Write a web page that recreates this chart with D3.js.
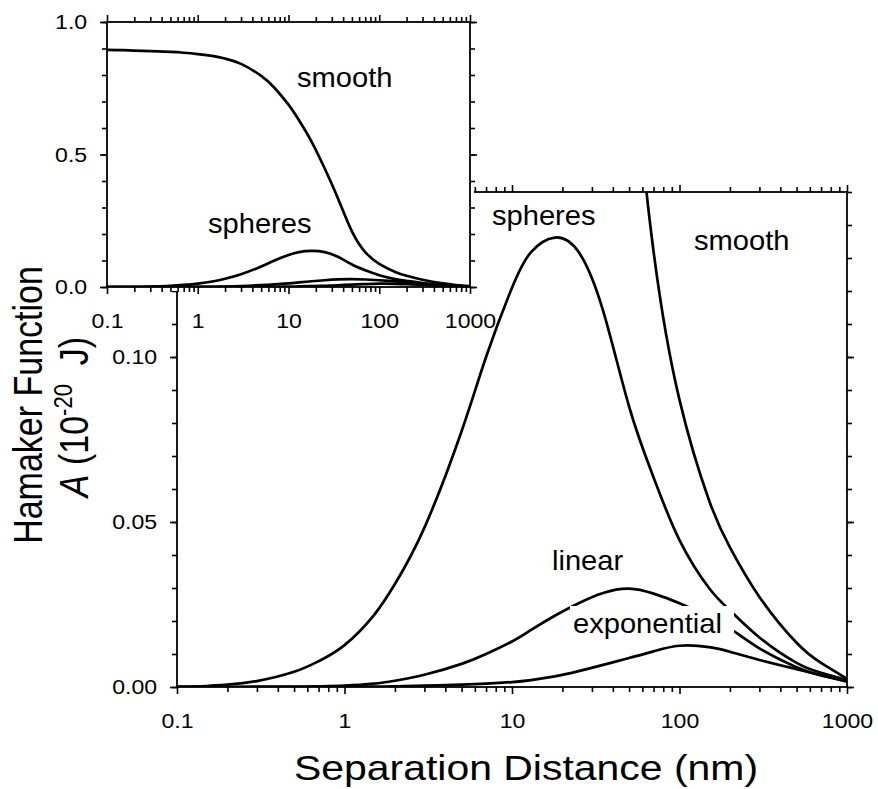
<!DOCTYPE html>
<html>
<head>
<meta charset="utf-8">
<script src="https://cdn.jsdelivr.net/npm/d3@7"></script>
<style>
  html, body { margin: 0; padding: 0; background: #fff; }
  svg { display: block; }
</style>
</head>
<body>
<svg id="chart" width="878" height="789"></svg>
<script>
// Separation distance grid (nm), shared by all four curves
const distances = [0.1, 0.15, 0.2, 0.3, 0.5, 0.7, 1, 1.5, 2, 3, 5, 7, 10, 13, 18, 25, 35, 50, 70, 100, 150, 200, 300, 500, 700, 1000];

// Hamaker function A (10^-20 J) for each surface model
const smooth      = [0.895, 0.894, 0.892, 0.890, 0.887, 0.884, 0.879, 0.871, 0.862, 0.842, 0.797, 0.752, 0.688, 0.630, 0.548, 0.448, 0.335, 0.210, 0.132, 0.087, 0.0566, 0.0423, 0.0273, 0.0134, 0.0073, 0.0025];
const spheres     = [0.0001, 0.0003, 0.0007, 0.0018, 0.0046, 0.0078, 0.0127, 0.0218, 0.0312, 0.0483, 0.0775, 0.1000, 0.1210, 0.1318, 0.1362, 0.1318, 0.1140, 0.0850, 0.0635, 0.0445, 0.0300, 0.0232, 0.0150, 0.0073, 0.0043, 0.0021];
const linear      = [0, 0, 0, 0.0001, 0.0001, 0.0002, 0.0004, 0.0010, 0.0019, 0.0037, 0.0070, 0.0100, 0.0138, 0.0173, 0.0216, 0.0254, 0.0285, 0.0298, 0.0283, 0.0254, 0.0213, 0.0178, 0.0117, 0.0060, 0.0035, 0.0018];
const exponential = [0, 0, 0, 0, 0, 0, 0.0001, 0.0001, 0.0002, 0.0004, 0.0007, 0.0010, 0.0015, 0.0021, 0.0032, 0.0048, 0.0067, 0.0088, 0.0108, 0.0125, 0.0121, 0.0107, 0.0082, 0.0054, 0.0036, 0.0016];

// Axis ticks and labels
const xMajorTicks  = [0.1, 1, 10, 100, 1000];
const xTickLabels  = ["0.1", "1", "10", "100", "1000"];
const mainYTicks   = [0, 0.05, 0.10];
const mainYLabels  = ["0.00", "0.05", "0.10"];
const insetYTicks  = [0, 0.5, 1.0];
const insetYLabels = ["0.0", "0.5", "1.0"];

const FONT = '"Liberation Sans", Arial, Helvetica, sans-serif';
const TICK_STRETCH = 1.1;
const TITLE_STRETCH = 1.17;

const svg = d3.select("#chart");

// minor ticks: 2..9 within each decade, and regular steps on the linear axes
const xMinorTicks = [];
for (let e = -1; e < 3; e++) for (let d = 2; d <= 9; d++) xMinorTicks.push(d * Math.pow(10, e));
const mainYMinor = d3.range(0, 16).map(i => i / 100);
const insetYMinor = d3.range(0, 11).map(i => i / 10);

const series = [smooth, spheres, linear, exponential];

function styleAxis(g, labelSize) {
  g.select(".domain").remove();
  g.attr("font-family", FONT).attr("font-size", labelSize);
  g.selectAll("line").attr("stroke", "#000").attr("stroke-width", 1.6);
  g.selectAll("text").attr("fill", "#000").attr("transform", `scale(${TICK_STRETCH},1)`);
}

// Draws a framed panel with outward ticks on all four sides
function drawPanel(x, y, yMajor, yMajorLabels, yMinor) {
  const [x0, x1] = x.range();
  const [y0, y1] = y.range(); // y0 bottom, y1 top
  const g = svg.append("g");
  const fmtX = d => xTickLabels[xMajorTicks.indexOf(d)];
  const fmtY = d => yMajorLabels[yMajor.indexOf(d)];

  // bottom
  g.append("g").attr("transform", `translate(0,${y0})`)
    .call(d3.axisBottom(x).tickValues(xMinorTicks).tickSize(5).tickFormat(""))
    .call(s => styleAxis(s, 21));
  g.append("g").attr("transform", `translate(0,${y0})`)
    .call(d3.axisBottom(x).tickValues(xMajorTicks).tickSize(7).tickPadding(19).tickFormat(fmtX))
    .call(s => styleAxis(s, 21));
  // top
  g.append("g").attr("transform", `translate(0,${y1})`)
    .call(d3.axisTop(x).tickValues(xMinorTicks).tickSize(5).tickFormat(""))
    .call(s => styleAxis(s, 21));
  g.append("g").attr("transform", `translate(0,${y1})`)
    .call(d3.axisTop(x).tickValues(xMajorTicks).tickSize(7).tickFormat(""))
    .call(s => styleAxis(s, 21));
  // left
  g.append("g").attr("transform", `translate(${x0},0)`)
    .call(d3.axisLeft(y).tickValues(yMinor).tickSize(5).tickFormat(""))
    .call(s => styleAxis(s, 21));
  g.append("g").attr("transform", `translate(${x0},0)`)
    .call(d3.axisLeft(y).tickValues(yMajor).tickSize(7).tickPadding(11).tickFormat(fmtY))
    .call(s => styleAxis(s, 21));
  // right
  g.append("g").attr("transform", `translate(${x1},0)`)
    .call(d3.axisRight(y).tickValues(yMinor).tickSize(5).tickFormat(""))
    .call(s => styleAxis(s, 21));
  g.append("g").attr("transform", `translate(${x1},0)`)
    .call(d3.axisRight(y).tickValues(yMajor).tickSize(7).tickFormat(""))
    .call(s => styleAxis(s, 21));

  g.append("rect")
    .attr("x", x0).attr("y", y1)
    .attr("width", x1 - x0).attr("height", y0 - y1)
    .attr("fill", "none").attr("stroke", "#000").attr("stroke-width", 1.8);
}

function drawCurves(x, y, clipId) {
  const [x0, x1] = x.range();
  const [y0, y1] = y.range();
  svg.append("clipPath").attr("id", clipId)
    .append("rect").attr("x", x0).attr("y", y1).attr("width", x1 - x0).attr("height", y0 - y1);
  const line = d3.line()
    .x((d, i) => x(distances[i]))
    .y(d => y(d))
    .curve(d3.curveNatural);
  svg.append("g").attr("clip-path", `url(#${clipId})`)
    .selectAll("path").data(series).join("path")
    .attr("d", line)
    .attr("fill", "none")
    .attr("stroke", "#000")
    .attr("stroke-width", 2.7)
    .attr("stroke-linejoin", "round");
}

function curveLabel(text, x, y, boxed) {
  const g = svg.append("g");
  if (boxed) {
    g.append("rect").attr("x", boxed[0]).attr("y", boxed[1])
      .attr("width", boxed[2]).attr("height", boxed[3]).attr("fill", "#fff");
  }
  g.append("text")
    .attr("transform", `translate(${x},${y}) scale(1.04,1)`)
    .attr("font-family", FONT).attr("font-size", 28).attr("fill", "#000")
    .text(text);
}

// ---- main panel ----
const xMain = d3.scaleLog().domain([0.1, 1000]).range([177, 847]);
const yMain = d3.scaleLinear().domain([0, 0.15]).range([687, 192]);
drawCurves(xMain, yMain, "clip-main");
drawPanel(xMain, yMain, mainYTicks, mainYLabels, mainYMinor);
curveLabel("spheres", 492, 225);
curveLabel("smooth", 694, 250);
curveLabel("linear", 552, 570);
curveLabel("exponential", 573, 633, [570, 606, 164, 34]);

// ---- inset panel (full range) ----
svg.append("rect").attr("x", 100).attr("y", 0).attr("width", 374).attr("height", 291).attr("fill", "#fff");
const xIn = d3.scaleLog().domain([0.1, 1000]).range([107, 470]);
const yIn = d3.scaleLinear().domain([0, 1]).range([287, 22]);
drawCurves(xIn, yIn, "clip-inset");
drawPanel(xIn, yIn, insetYTicks, insetYLabels, insetYMinor);
curveLabel("smooth", 297, 87);
curveLabel("spheres", 208, 233);

// ---- axis titles ----
svg.append("text")
  .attr("transform", `translate(526,780) scale(${TITLE_STRETCH},1)`)
  .attr("text-anchor", "middle")
  .attr("font-family", FONT).attr("font-size", 35).attr("fill", "#000")
  .text("Separation Distance (nm)");

svg.append("text")
  .attr("transform", `translate(42,405) scale(${TITLE_STRETCH},1) rotate(-90)`)
  .attr("text-anchor", "middle")
  .attr("font-family", FONT).attr("font-size", 34).attr("fill", "#000")
  .text("Hamaker Function");

const yTitle2 = svg.append("text")
  .attr("transform", `translate(88,417) scale(${TITLE_STRETCH},1) rotate(-90)`)
  .attr("text-anchor", "middle")
  .attr("font-family", FONT).attr("font-size", 34).attr("fill", "#000");
yTitle2.append("tspan").attr("font-style", "italic").text("A");
yTitle2.append("tspan").text(" (10");
yTitle2.append("tspan").attr("font-size", 22).attr("dy", -14).text("-20");
yTitle2.append("tspan").attr("dy", 14).text("\u00A0 J)");
</script>
</body>
</html>
